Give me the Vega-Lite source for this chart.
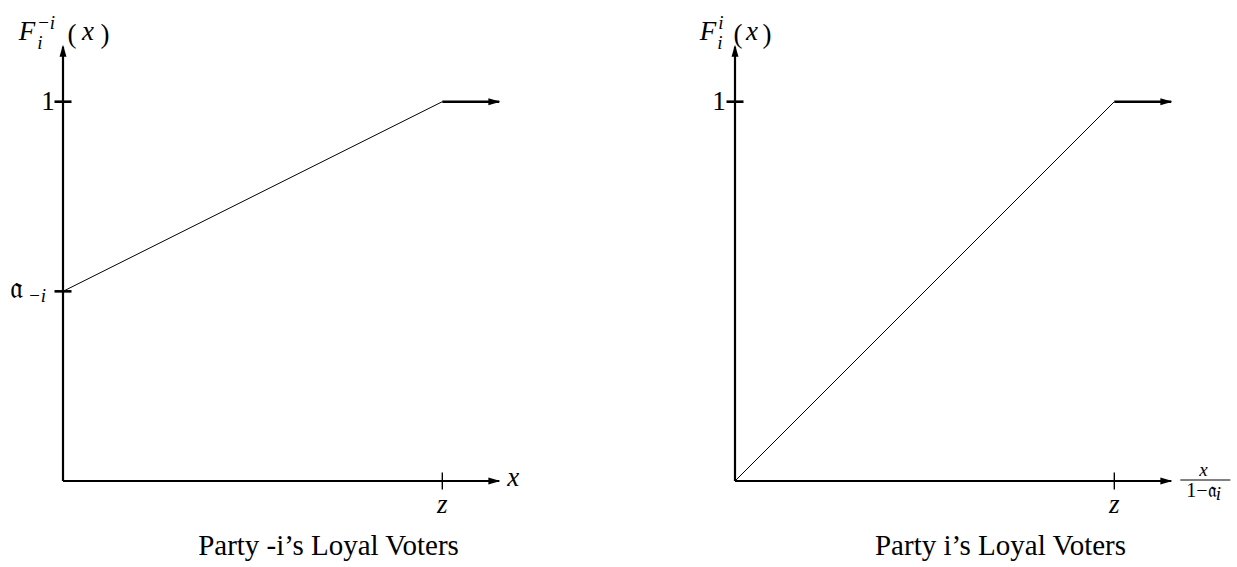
{
  "$schema": "https://vega.github.io/schema/vega-lite/v6.json",
  "background": "white",
  "padding": {"left": 9, "top": 13, "right": 0, "bottom": 0},
  "config": {"view": {"stroke": null}},
  "data": {"values": [
    {"panel": "L", "k": "axis", "x": 0, "y": 0, "x2": 1.15, "y2": 0},
    {"panel": "L", "k": "axis", "x": 0, "y": 0, "x2": 0, "y2": 1.145},
    {"panel": "L", "k": "curve", "x": 0, "y": 0.5},
    {"panel": "L", "k": "curve", "x": 1, "y": 1},
    {"panel": "L", "k": "tail", "x": 1, "y": 1, "x2": 1.15, "y2": 1},
    {"panel": "L", "k": "arrowR", "x": 1.153, "y": 0},
    {"panel": "L", "k": "arrowR", "x": 1.153, "y": 1},
    {"panel": "L", "k": "arrowU", "x": 0, "y": 1.15},
    {"panel": "L", "k": "ytick", "x": 0, "y": 1},
    {"panel": "L", "k": "ytick", "x": 0, "y": 0.5},
    {"panel": "L", "k": "xtick", "x": 1, "y": 0},
    {"panel": "L", "k": "ti", "x": -0.095, "y": 1.1636, "t": "F"},
    {"panel": "L", "k": "ti", "x": 0.066, "y": 1.1636, "t": "x"},
    {"panel": "L", "k": "ti", "x": 1.0, "y": -0.0844, "t": "z"},
    {"panel": "L", "k": "ti", "x": 1.1873, "y": -0.0132, "t": "x"},
    {"panel": "L", "k": "si", "x": -0.0449, "y": 1.1926, "t": "−i"},
    {"panel": "L", "k": "si", "x": -0.0607, "y": 1.1398, "t": "i"},
    {"panel": "L", "k": "si", "x": -0.0686, "y": 0.4723, "t": "−i"},
    {"panel": "L", "k": "tr", "x": 0.0237, "y": 1.1557, "t": "("},
    {"panel": "L", "k": "tr", "x": 0.1108, "y": 1.1557, "t": ")"},
    {"panel": "L", "k": "tr", "x": -0.0396, "y": 0.9789, "t": "1"},
    {"panel": "L", "k": "fk", "x": -0.1227, "y": 0.4828, "t": "𝔞"},
    {"panel": "L", "k": "ttl", "x": 0.70, "y": -0.1953, "t": "Party -i’s Loyal Voters"},
    {"panel": "R", "k": "axis", "x": 0, "y": 0, "x2": 1.15, "y2": 0},
    {"panel": "R", "k": "axis", "x": 0, "y": 0, "x2": 0, "y2": 1.145},
    {"panel": "R", "k": "curve", "x": 0, "y": 0},
    {"panel": "R", "k": "curve", "x": 1, "y": 1},
    {"panel": "R", "k": "tail", "x": 1, "y": 1, "x2": 1.15, "y2": 1},
    {"panel": "R", "k": "arrowR", "x": 1.153, "y": 0},
    {"panel": "R", "k": "arrowR", "x": 1.153, "y": 1},
    {"panel": "R", "k": "arrowU", "x": 0, "y": 1.15},
    {"panel": "R", "k": "ytick", "x": 0, "y": 1},
    {"panel": "R", "k": "xtick", "x": 1, "y": 0},
    {"panel": "R", "k": "ti", "x": -0.0712, "y": 1.1636, "t": "F"},
    {"panel": "R", "k": "ti", "x": 0.0449, "y": 1.1636, "t": "x"},
    {"panel": "R", "k": "ti", "x": 1.0, "y": -0.0844, "t": "z"},
    {"panel": "R", "k": "si", "x": -0.0369, "y": 1.1926, "t": "i"},
    {"panel": "R", "k": "si", "x": -0.0396, "y": 1.1398, "t": "i"},
    {"panel": "R", "k": "si", "x": 1.2348, "y": 0.0132, "t": "x"},
    {"panel": "R", "k": "si", "x": 1.2744, "y": -0.0501, "t": "i"},
    {"panel": "R", "k": "tr", "x": 0.0079, "y": 1.1557, "t": "("},
    {"panel": "R", "k": "tr", "x": 0.0844, "y": 1.1557, "t": ")"},
    {"panel": "R", "k": "tr", "x": -0.0422, "y": 0.9789, "t": "1"},
    {"panel": "R", "k": "sr", "x": 1.2296, "y": -0.0422, "t": "1−𝔞"},
    {"panel": "R", "k": "frac", "x": 1.174, "x2": 1.306, "y": 0.0026},
    {"panel": "R", "k": "ttl", "x": 0.70, "y": -0.1953, "t": "Party i’s Loyal Voters"}
  ]},
  "facet": {"column": {"field": "panel", "type": "nominal", "header": null, "sort": ["L", "R"]}},
  "spacing": 232,
  "bounds": "flush",
  "spec": {
    "width": 440,
    "height": 440,
    "encoding": {
      "x": {"field": "x", "type": "quantitative", "scale": {"domain": [0, 1.16], "nice": false, "zero": false}, "axis": null},
      "y": {"field": "y", "type": "quantitative", "scale": {"domain": [0, 1.16], "nice": false, "zero": false}, "axis": null}
    },
    "layer": [
      {"transform": [{"filter": "datum.k === 'axis'"}],
       "mark": {"type": "rule", "color": "black", "strokeWidth": 2.2},
       "encoding": {"x2": {"field": "x2"}, "y2": {"field": "y2"}}},
      {"transform": [{"filter": "datum.k === 'curve'"}],
       "mark": {"type": "line", "color": "black", "strokeWidth": 1}},
      {"transform": [{"filter": "datum.k === 'tail'"}],
       "mark": {"type": "rule", "color": "black", "strokeWidth": 2.4},
       "encoding": {"x2": {"field": "x2"}, "y2": {"field": "y2"}}},
      {"transform": [{"filter": "datum.k === 'frac'"}],
       "mark": {"type": "rule", "color": "black", "strokeWidth": 1},
       "encoding": {"x2": {"field": "x2"}}},
      {"transform": [{"filter": "datum.k === 'arrowR'"}],
       "mark": {"type": "point", "shape": "M0,0L-2.4,-0.7L-2.4,0.7Z", "size": 100, "filled": true, "color": "black", "opacity": 1}},
      {"transform": [{"filter": "datum.k === 'arrowU'"}],
       "mark": {"type": "point", "shape": "M0,0L-2.4,-0.7L-2.4,0.7Z", "size": 100, "angle": -90, "filled": true, "color": "black", "opacity": 1}},
      {"transform": [{"filter": "datum.k === 'ytick'"}],
       "mark": {"type": "point", "shape": "stroke", "size": 289, "filled": false, "color": "black", "strokeWidth": 2.6, "opacity": 1}},
      {"transform": [{"filter": "datum.k === 'xtick'"}],
       "mark": {"type": "point", "shape": "stroke", "size": 289, "angle": 90, "filled": false, "color": "black", "strokeWidth": 1.4, "opacity": 1}},
      {"transform": [{"filter": "datum.k === 'ti'"}],
       "mark": {"type": "text", "font": "Liberation Serif", "fontStyle": "italic", "fontSize": 27, "align": "center", "baseline": "alphabetic", "color": "black"},
       "encoding": {"text": {"field": "t"}}},
      {"transform": [{"filter": "datum.k === 'si'"}],
       "mark": {"type": "text", "font": "Liberation Serif", "fontStyle": "italic", "fontSize": 19, "align": "center", "baseline": "alphabetic", "color": "black"},
       "encoding": {"text": {"field": "t"}}},
      {"transform": [{"filter": "datum.k === 'tr'"}],
       "mark": {"type": "text", "font": "Liberation Serif", "fontSize": 27, "align": "center", "baseline": "alphabetic", "color": "black"},
       "encoding": {"text": {"field": "t"}}},
      {"transform": [{"filter": "datum.k === 'fk'"}],
       "mark": {"type": "text", "font": "Liberation Serif", "fontSize": 30, "align": "center", "baseline": "alphabetic", "color": "black"},
       "encoding": {"text": {"field": "t"}}},
      {"transform": [{"filter": "datum.k === 'sr'"}],
       "mark": {"type": "text", "font": "Liberation Serif", "fontSize": 20, "align": "center", "baseline": "alphabetic", "color": "black"},
       "encoding": {"text": {"field": "t"}}},
      {"transform": [{"filter": "datum.k === 'ttl'"}],
       "mark": {"type": "text", "font": "Liberation Serif", "fontSize": 29, "align": "center", "baseline": "alphabetic", "color": "black"},
       "encoding": {"text": {"field": "t"}}}
    ]
  }
}
